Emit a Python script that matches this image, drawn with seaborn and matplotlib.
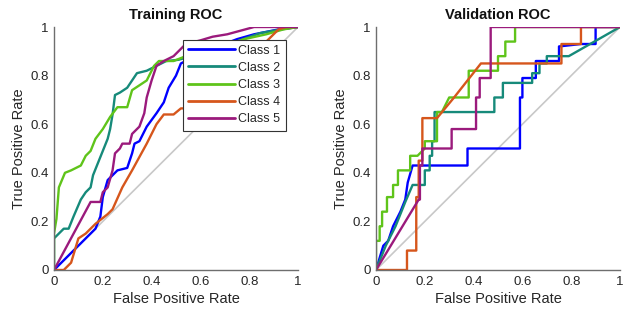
import numpy as np
import pandas as pd
import matplotlib
matplotlib.use("Agg")
import matplotlib.pyplot as plt
import seaborn as sns

classes = ["Class 1", "Class 2", "Class 3", "Class 4", "Class 5"]
colors = ["#0000ff", "#168a7a", "#5fc41a", "#d6561c", "#9b1a7c"]

# ---- Training ROC curves (FPR, TPR) ----
tr_c1_x = [0, 0.17, 0.19, 0.20, 0.22, 0.26, 0.30, 0.32, 0.33, 0.35, 0.38, 0.42, 0.45, 0.47, 0.50, 0.52, 0.54, 0.62, 0.75, 0.82, 0.92, 1.0]
tr_c1_y = [0, 0.17, 0.22, 0.30, 0.37, 0.41, 0.42, 0.48, 0.52, 0.53, 0.59, 0.645, 0.69, 0.75, 0.80, 0.85, 0.86, 0.90, 0.95, 0.97, 0.99, 1.0]

tr_c2_x = [0, 0.0, 0.01, 0.04, 0.06, 0.08, 0.11, 0.13, 0.15, 0.16, 0.18, 0.20, 0.22, 0.23, 0.24, 0.25, 0.27, 0.30, 0.34, 0.38, 0.42, 0.46, 0.51, 0.60, 0.72, 0.845, 0.93, 1.0]
tr_c2_y = [0, 0.13, 0.14, 0.17, 0.17, 0.22, 0.29, 0.32, 0.34, 0.39, 0.44, 0.49, 0.54, 0.58, 0.64, 0.72, 0.73, 0.75, 0.81, 0.82, 0.84, 0.86, 0.865, 0.89, 0.93, 0.975, 0.99, 1.0]

tr_c3_x = [0, 0.0, 0.01, 0.02, 0.045, 0.07, 0.11, 0.13, 0.15, 0.17, 0.20, 0.23, 0.26, 0.30, 0.32, 0.35, 0.38, 0.41, 0.43, 0.49, 0.54, 0.65, 0.78, 0.87, 0.94, 1.0]
tr_c3_y = [0, 0.15, 0.21, 0.34, 0.40, 0.41, 0.43, 0.47, 0.49, 0.54, 0.58, 0.63, 0.67, 0.67, 0.74, 0.76, 0.78, 0.84, 0.86, 0.86, 0.88, 0.91, 0.95, 0.97, 0.99, 1.0]

tr_c4_x = [0, 0.04, 0.07, 0.10, 0.13, 0.17, 0.22, 0.24, 0.28, 0.32, 0.38, 0.42, 0.45, 0.49, 0.52, 0.56, 0.70, 0.80, 0.88, 0.92, 0.95, 1.0]
tr_c4_y = [0, 0.0, 0.03, 0.13, 0.15, 0.19, 0.23, 0.25, 0.34, 0.41, 0.52, 0.60, 0.64, 0.64, 0.665, 0.665, 0.78, 0.87, 0.95, 0.99, 1.0, 1.0]

tr_c5_x = [0, 0.15, 0.19, 0.20, 0.22, 0.24, 0.25, 0.27, 0.28, 0.31, 0.32, 0.35, 0.37, 0.38, 0.40, 0.42, 0.45, 0.49, 0.54, 0.60, 0.65, 0.71, 0.82, 1.0]
tr_c5_y = [0, 0.28, 0.28, 0.32, 0.34, 0.41, 0.48, 0.50, 0.52, 0.52, 0.56, 0.59, 0.645, 0.71, 0.78, 0.84, 0.86, 0.88, 0.93, 0.945, 0.96, 0.97, 1.0, 1.0]

# ---- Validation ROC curves (FPR, TPR) ----
va_c1_x = [0, 0.03, 0.05, 0.07, 0.10, 0.12, 0.13, 0.15, 0.375, 0.375, 0.59, 0.59, 0.60, 0.60, 0.655, 0.655, 0.75, 0.75, 0.84, 0.90, 0.90, 1.0]
va_c1_y = [0, 0.10, 0.12, 0.18, 0.24, 0.29, 0.36, 0.43, 0.43, 0.50, 0.50, 0.71, 0.71, 0.79, 0.79, 0.86, 0.86, 0.92, 0.93, 0.93, 1.0, 1.0]

va_c2_x = [0, 0.04, 0.08, 0.12, 0.15, 0.20, 0.20, 0.22, 0.22, 0.23, 0.23, 0.24, 0.24, 0.485, 0.485, 0.52, 0.52, 0.64, 0.64, 0.67, 0.67, 0.70, 0.70, 0.79, 1.0]
va_c2_y = [0, 0.10, 0.18, 0.28, 0.35, 0.35, 0.41, 0.41, 0.47, 0.47, 0.53, 0.53, 0.65, 0.65, 0.71, 0.71, 0.77, 0.77, 0.81, 0.81, 0.85, 0.85, 0.88, 0.88, 1.0]

va_c3_x = [0, 0.0, 0.015, 0.015, 0.025, 0.025, 0.045, 0.045, 0.07, 0.07, 0.09, 0.09, 0.14, 0.14, 0.17, 0.20, 0.20, 0.25, 0.25, 0.27, 0.30, 0.38, 0.38, 0.50, 0.50, 0.53, 0.53, 0.57, 0.57, 1.0]
va_c3_y = [0, 0.12, 0.12, 0.18, 0.18, 0.24, 0.24, 0.30, 0.30, 0.35, 0.35, 0.41, 0.41, 0.47, 0.47, 0.50, 0.53, 0.53, 0.65, 0.65, 0.71, 0.71, 0.82, 0.82, 0.88, 0.88, 0.94, 0.94, 1.0, 1.0]

va_c4_x = [0, 0.127, 0.127, 0.165, 0.165, 0.175, 0.175, 0.19, 0.19, 0.25, 0.32, 0.43, 0.76, 0.76, 0.84, 0.84, 1.0]
va_c4_y = [0, 0.0, 0.08, 0.08, 0.30, 0.30, 0.45, 0.45, 0.625, 0.625, 0.71, 0.85, 0.85, 0.93, 0.93, 1.0, 1.0]

va_c5_x = [0, 0.175, 0.18, 0.18, 0.19, 0.19, 0.31, 0.31, 0.41, 0.41, 0.425, 0.425, 0.47, 0.47, 1.0]
va_c5_y = [0, 0.29, 0.29, 0.43, 0.43, 0.50, 0.50, 0.58, 0.58, 0.71, 0.71, 0.79, 0.79, 1.0, 1.0]

tick_vals = [0, 0.2, 0.4, 0.6, 0.8, 1]
tick_labels = ["0", "0.2", "0.4", "0.6", "0.8", "1"]


def build(curves):
    rows = []
    for cls, (xs, ys) in zip(classes, curves):
        for i, (x, y) in enumerate(zip(xs, ys)):
            rows.append({"Class": cls, "FPR": x, "TPR": y, "order": i})
    return pd.DataFrame(rows)


train_df = build([(tr_c1_x, tr_c1_y), (tr_c2_x, tr_c2_y), (tr_c3_x, tr_c3_y),
                  (tr_c4_x, tr_c4_y), (tr_c5_x, tr_c5_y)])
val_df = build([(va_c1_x, va_c1_y), (va_c2_x, va_c2_y), (va_c3_x, va_c3_y),
                (va_c4_x, va_c4_y), (va_c5_x, va_c5_y)])

sns.set_style("white")
plt.rcParams["font.family"] = ["Liberation Sans", "DejaVu Sans"]

fig = plt.figure(figsize=(6.36, 3.2), dpi=100)
ax1 = fig.add_axes([54 / 636, 50 / 320, 244 / 636, 243 / 320])
ax2 = fig.add_axes([376 / 636, 50 / 320, 244 / 636, 243 / 320])
palette = dict(zip(classes, colors))

for ax, df, title, show_legend in [(ax1, train_df, "Training ROC", True),
                                   (ax2, val_df, "Validation ROC", False)]:
    ax.plot([0, 1], [0, 1], color="#c8c8c8", lw=1.2, zorder=1)
    sns.lineplot(data=df, x="FPR", y="TPR", hue="Class", palette=palette,
                 sort=False, estimator=None, units="Class", lw=1.7, ax=ax,
                 legend=show_legend, zorder=2)
    ax.set_xlim(0, 1)
    ax.set_ylim(0, 1)
    ax.set_xticks(tick_vals)
    ax.set_xticklabels(tick_labels)
    ax.set_yticks(tick_vals)
    ax.set_yticklabels(tick_labels)
    ax.tick_params(direction="in", length=3, width=0.8, colors="#555555",
                   labelcolor="#262626", labelsize=9.5, pad=4)
    for side in ["top", "right"]:
        ax.spines[side].set_visible(False)
    for side in ["left", "bottom"]:
        ax.spines[side].set_color("#6e6e6e")
        ax.spines[side].set_linewidth(1.0)
    ax.set_xlabel("False Positive Rate", fontsize=10.5, color="#262626", labelpad=3)
    ax.set_ylabel("True Positive Rate", fontsize=10.5, color="#262626", labelpad=3)
    ax.set_title(title, fontsize=10.5, fontweight="bold", color="#111111", pad=6)

leg = ax1.legend(loc="upper right", frameon=True, fancybox=False, framealpha=1,
                 edgecolor="#333333", fontsize=9, handlelength=3.8,
                 handletextpad=0.25, labelspacing=0.42, borderpad=0.4,
                 borderaxespad=1.0)
leg.get_frame().set_linewidth(0.8)
for line in leg.get_lines():
    line.set_linewidth(2.0)

fig.savefig("out.png", dpi=100)
